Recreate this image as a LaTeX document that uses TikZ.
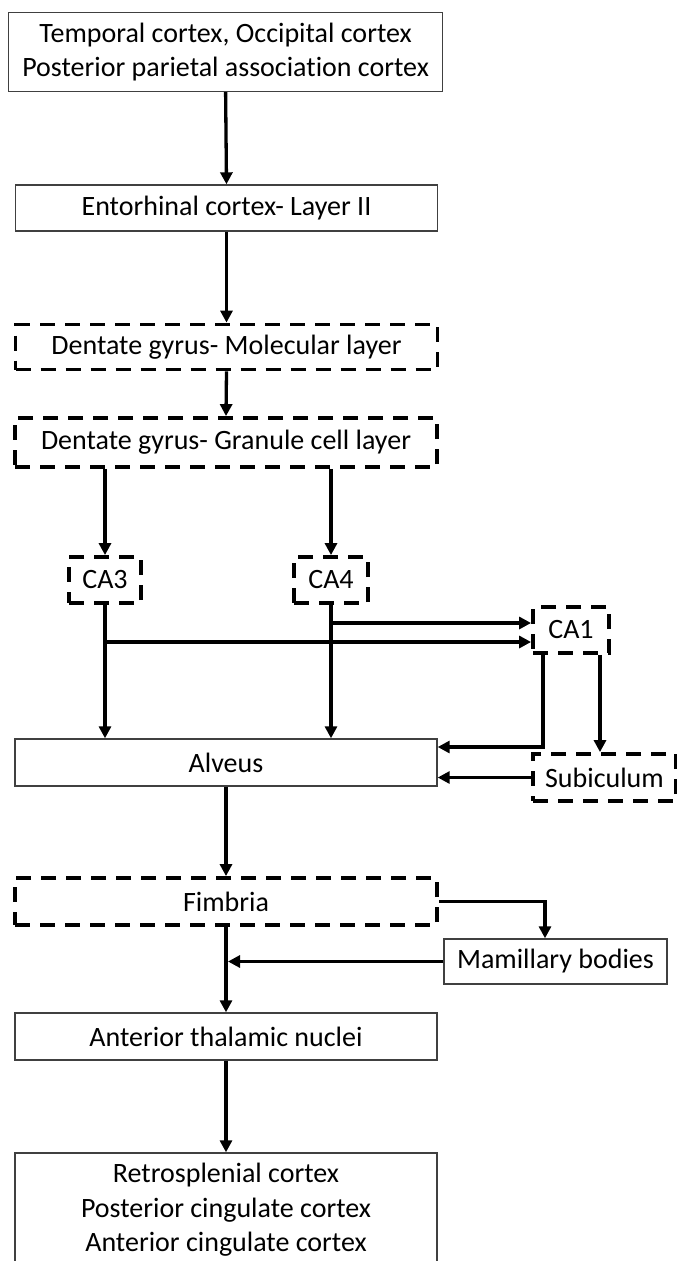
\documentclass[tikz,border=0pt]{standalone}
\usepackage{fontspec}
\setmainfont{Carlito}[Ligatures=CommonOff]
\usetikzlibrary{arrows.meta}
\begin{document}
\begin{tikzpicture}[x=1pt,y=-1pt,
  font=\fontsize{28}{34.5}\selectfont,
  solidbox/.style={draw=black!75, line width=1.4pt, rectangle, inner sep=0pt, align=center},
  dashbox/.style={draw=black, line width=3.8pt, dash pattern=on 15pt off 10pt, rectangle, inner sep=0pt, align=center},
  arr/.style={draw=black, line width=3.3pt, -{Triangle[length=12pt,width=12pt]}}]
\useasboundingbox (0,0) rectangle (677,1261);
\clip (0,0) rectangle (677,1261);
\fill[white] (0,0) rectangle (677,1261);

% nodes
\node[solidbox, minimum width=434pt, minimum height=79pt] (b1) at (225.6,52)
  {Temporal cortex, Occipital cortex\\Posterior parietal association cortex};
\node[solidbox, minimum width=422pt, minimum height=46pt] (ent) at (226.5,208) {Entorhinal cortex- Layer II};
\node[dashbox, minimum width=422pt, minimum height=45pt] (mol) at (226.5,347) {Dentate gyrus- Molecular layer};
\node[dashbox, minimum width=422pt, minimum height=49pt] (gran) at (226,442.5) {Dentate gyrus- Granule cell layer};
\node[dashbox, minimum width=72pt, minimum height=46pt] (ca3) at (105,580) {CA3};
\node[dashbox, minimum width=74pt, minimum height=46pt] (ca4) at (331,580) {CA4};
\node[dashbox, minimum width=76pt, minimum height=46pt] (ca1) at (571,630) {CA1};
\node[solidbox, minimum width=422pt, minimum height=47pt] (alv) at (226,762.5) {Alveus};
\node[dashbox, minimum width=143pt, minimum height=47pt] (sub) at (604.5,777.5) {Subiculum};
\node[dashbox, minimum width=422pt, minimum height=47pt] (fim) at (226,901.5) {Fimbria};
\node[solidbox, minimum width=223pt, minimum height=45pt] (mam) at (555.5,961.5) {Mamillary bodies};
\node[solidbox, minimum width=422pt, minimum height=47pt] (ant) at (226,1036.5) {Anterior thalamic nuclei};
\node[solidbox, minimum width=422pt, minimum height=114pt] (fin) at (226,1210)
  {Retrosplenial cortex\\Posterior cingulate cortex\\Anterior cingulate cortex};

% helper coordinates
\coordinate (h623) at (0,623);
\coordinate (h642) at (0,642);
\coordinate (k543) at (543,747);
\coordinate (v600) at (600,0);
\coordinate (v545) at (545,0);

% connectors
\draw[arr] (b1.south) -- (ent.north);
\draw[arr] (ent.south) -- (mol.north);
\draw[arr] (mol.south) -- (gran.north);
\draw[arr] (ca3.north |- gran.south) -- (ca3.north);
\draw[arr] (ca4.north |- gran.south) -- (ca4.north);
\draw[arr] (ca3.south) -- (ca3.south |- alv.north);
\draw[arr] (ca4.south) -- (ca4.south |- alv.north);
\draw[arr] (ca4.south |- h623) -- (ca1.west |- h623);
\draw[arr] (ca3.south |- h642) -- (ca1.west |- h642);
\draw[arr] (ca1.south -| k543) -- (k543) -- (alv.east |- k543);
\draw[arr] (ca1.south -| v600) -- (sub.north -| v600);
\draw[arr] (sub.west) -- (alv.east |- sub.west);
\draw[arr] (alv.south) -- (fim.north);
\draw[arr] (fim.east) -| (mam.north -| v545);
\draw[arr, shorten >=2pt] (mam.west) -- (fim.south |- mam.west);
\draw[arr] (fim.south) -- (ant.north);
\draw[arr] (ant.south) -- (fin.north);
\end{tikzpicture}
\end{document}
